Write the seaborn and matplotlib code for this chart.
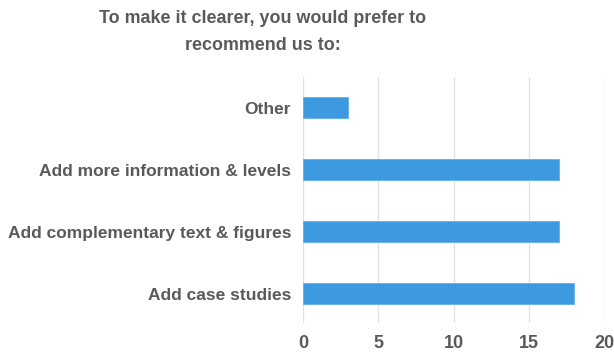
import matplotlib
matplotlib.use("Agg")
import matplotlib.pyplot as plt
import seaborn as sns
import pandas as pd

categories = [
    "Other",
    "Add more information & levels",
    "Add complementary text & figures",
    "Add case studies",
]
responses = [3, 17, 17, 18]
x_ticks = [0, 5, 10, 15, 20]

df = pd.DataFrame({"option": categories, "count": responses})

sns.set_theme(style="white")
plt.rcParams["font.family"] = ["Liberation Sans", "DejaVu Sans"]

text_color = "#5a5a5a"
bar_color = "#3d9ae0"

fig = plt.figure(figsize=(6.14, 3.58), dpi=100)
ax = fig.add_axes([0.4935, 0.0978, 0.4902, 0.6872])

sns.barplot(data=df, x="count", y="option", orient="h", color=bar_color,
            width=0.34, saturation=1, edgecolor="#62b0ea", linewidth=0.6, ax=ax)

ax.set_xlim(0, 20)
ax.set_ylim(3.47, -0.5)
ax.set_xticks(x_ticks)
ax.set_xticklabels([str(t) for t in x_ticks])
ax.xaxis.grid(True, color="#e2e2e2", linewidth=1)
ax.set_axisbelow(True)
for s in ax.spines.values():
    s.set_visible(False)
ax.set_xlabel("")
ax.set_ylabel("")
ax.tick_params(axis="y", length=0, labelsize=12.5, labelcolor=text_color, pad=8.5)
ax.tick_params(axis="x", length=0, labelsize=13, labelcolor=text_color, pad=9)
for lbl in ax.get_xticklabels() + ax.get_yticklabels():
    lbl.set_fontweight("bold")

fig.text(263 / 614, 1 - 32 / 358,
         "To make it clearer, you would prefer to\nrecommend us to:",
         ha="center", va="center", fontsize=12.9, fontweight="bold",
         color=text_color, linespacing=1.8)

fig.savefig("out.png", dpi=100, facecolor="white")
